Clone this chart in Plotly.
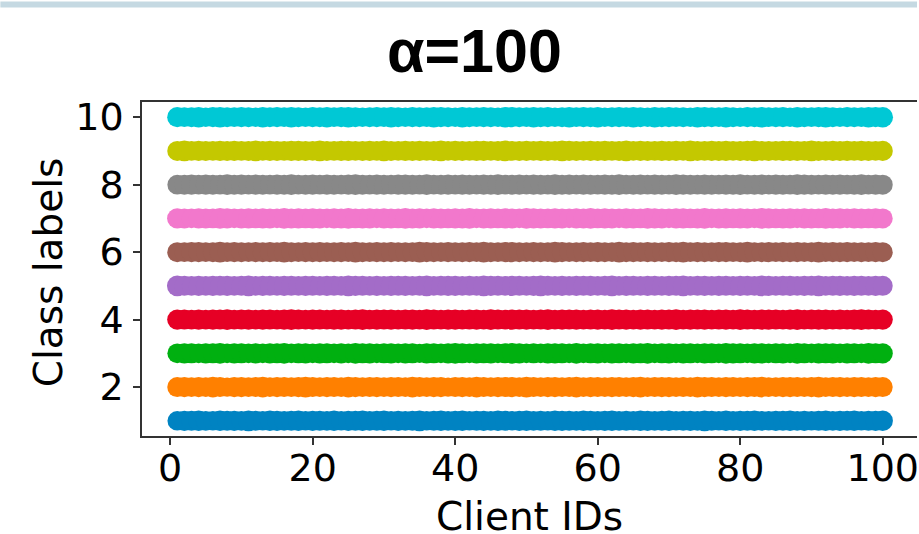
import plotly.graph_objects as go

# ---------------- data ----------------
client_ids = list(range(1, 101))
class_labels = [1, 2, 3, 4, 5, 6, 7, 8, 9, 10]
x_ticks = [0, 20, 40, 60, 80, 100]
y_ticks = [2, 4, 6, 8, 10]
title_text = "α=100"

# samples per (class, client)
counts_c1 = [48,51,50,53,49,47,52,50,51,49,54,50,48,52,51,49,50,53,47,51,
             50,49,52,48,51,50,53,49,50,52,48,51,49,50,54,47,50,52,49,51,
             53,48,50,51,49,52,50,47,51,53,49,50,48,52,51,50,49,53,50,48,
             51,52,49,50,47,53,51,49,50,52,48,50,51,49,54,50,48,52,49,51,
             50,53,49,48,51,50,52,49,51,48,50,53,49,51,50,52,48,50,51,52]
counts_c2 = [50,52,48,51,49,53,50,47,52,51,49,50,53,48,51,50,49,52,54,50,
             48,51,50,49,53,51,48,50,52,49,51,50,48,53,50,49,52,51,47,50,
             51,49,53,50,48,52,50,51,49,54,50,48,51,52,49,50,53,48,51,50,
             49,52,50,48,51,53,49,50,52,51,48,50,49,53,51,50,48,52,50,49,
             51,50,53,49,48,51,52,50,49,51,53,48,50,51,49,52,50,48,51,50]
counts_c3 = [49,51,50,48,52,50,53,49,51,50,48,52,49,51,50,53,48,50,51,49,
             52,50,48,51,49,53,50,51,48,50,52,49,51,50,47,52,50,49,51,53,
             50,48,51,50,52,49,50,53,51,48,50,49,52,51,50,48,53,49,50,51,
             48,52,50,49,51,50,53,48,50,52,49,51,50,48,52,50,49,53,51,50,
             49,51,52,48,50,51,49,53,50,48,51,50,52,49,51,50,48,53,50,51]
counts_c4 = [51,50,49,52,48,51,50,53,49,50,51,48,52,50,49,51,53,50,48,51,
             50,49,52,51,48,50,53,49,51,50,52,48,50,51,49,53,50,48,52,51,
             49,50,51,48,53,50,49,52,50,51,48,50,53,49,51,50,52,48,50,51,
             49,53,50,51,48,52,50,49,51,50,53,48,51,50,52,49,50,51,48,53,
             50,49,52,51,50,48,51,53,49,50,52,51,48,50,49,51,53,50,49,51]
counts_c5 = [53,50,48,51,49,52,50,51,48,50,53,49,51,50,48,52,50,49,51,50,
             48,52,50,49,53,51,50,48,51,49,52,50,51,48,50,53,49,50,52,51,
             48,50,49,53,51,50,48,52,50,49,51,53,50,48,51,49,52,50,51,48,
             50,53,49,51,50,48,52,50,49,51,50,53,48,50,51,49,52,50,48,51,
             50,49,53,51,48,50,52,49,51,50,53,48,50,51,49,52,50,48,51,50]
counts_c6 = [50,49,51,52,48,50,53,49,51,50,48,52,50,51,49,53,50,48,51,50,
             52,49,50,51,48,53,50,49,52,50,51,48,50,49,53,51,50,48,52,49,
             50,51,48,53,50,49,51,52,50,48,51,50,49,53,51,48,50,52,49,51,
             50,48,53,50,51,49,52,50,48,51,50,53,49,51,50,48,52,51,49,50,
             53,48,50,51,49,52,50,51,48,50,53,49,51,50,52,48,50,49,51,50]
counts_c7 = [52,50,48,51,50,49,53,51,48,50,52,49,51,50,48,53,50,51,49,52,
             50,48,51,50,53,49,50,52,48,51,50,49,53,50,51,48,52,50,49,51,
             50,53,48,50,51,49,52,50,48,53,51,50,49,52,50,48,51,50,53,49,
             51,50,48,52,50,49,53,51,50,48,51,52,49,50,53,48,50,51,49,52,
             50,48,53,51,49,50,52,48,51,50,49,53,50,51,48,52,50,49,51,50]
counts_c8 = [49,50,52,48,51,50,49,53,50,51,48,52,50,49,51,50,53,48,50,51,
             49,52,50,48,51,53,50,49,51,50,48,52,51,50,49,53,48,50,51,49,
             52,50,48,51,50,53,49,50,52,48,51,50,49,53,50,51,48,52,50,49,
             51,50,53,48,50,51,49,52,50,48,53,51,50,49,52,50,48,51,50,53,
             49,50,51,48,52,50,49,53,51,50,48,52,50,51,49,50,53,48,51,50]
counts_c9 = [50,53,49,51,50,48,52,50,51,49,50,53,48,51,50,49,52,51,50,48,
             53,50,49,51,52,48,50,51,49,53,50,48,52,50,51,49,50,53,48,51,
             50,49,52,51,48,50,53,49,50,51,48,52,50,49,53,51,50,48,51,50,
             52,49,50,53,48,51,50,49,52,50,51,48,53,50,49,51,50,52,48,50,
             51,53,49,50,48,52,51,50,49,53,50,48,51,50,52,49,51,50,48,51]
counts_c10 = [51,49,50,52,48,51,53,50,49,51,50,48,52,50,51,49,53,50,48,51,
              50,52,49,51,53,50,48,50,51,49,52,50,48,51,50,49,53,51,50,48,
              52,50,49,51,50,48,53,51,50,49,52,50,51,48,50,53,49,51,50,52,
              48,50,51,49,53,50,48,52,50,51,49,50,48,53,51,50,49,52,50,48,
              51,50,53,49,50,51,48,52,50,49,51,53,50,48,51,50,49,52,51,53]

counts = [counts_c1, counts_c2, counts_c3, counts_c4, counts_c5,
          counts_c6, counts_c7, counts_c8, counts_c9, counts_c10]

colors = ["#0083c2", "#ff8000", "#00b010", "#e60025", "#a36cc8",
          "#9b5e52", "#f278cc", "#888888", "#c4c800", "#00c8d5"]

# ---------------- figure ----------------
W, H = 919, 534
L, R, T, B = 142, 0, 102, 98
pw, ph = W - L - R, H - T - B

fig = go.Figure()
for lab, cnt, col in zip(class_labels, counts, colors):
    fig.add_trace(go.Scatter(
        x=client_ids,
        y=[lab] * len(client_ids),
        mode="markers",
        marker=dict(size=[20 * (c / 50) ** 0.5 for c in cnt], color=col,
                    line=dict(width=0), opacity=1),
        showlegend=False,
        hoverinfo="skip",
    ))

tick_font = dict(family="DejaVu Sans", size=38, color="black")
axis_line = "#333333"

fig.update_layout(
    width=W, height=H,
    margin=dict(l=L, r=R, t=T, b=B),
    paper_bgcolor="white", plot_bgcolor="white",
    showlegend=False,
    xaxis=dict(range=[-3.95, 104.81], tickvals=x_ticks, ticktext=[str(v) for v in x_ticks],
               showgrid=False, zeroline=False, showline=True, mirror=True,
               linecolor=axis_line, linewidth=1.5, ticks="outside", ticklen=7,
               tickwidth=1.5, tickcolor=axis_line, tickfont=tick_font,
               ticklabelstandoff=-9, ticklabeloverflow="allow"),
    yaxis=dict(range=[0.55, 10.45], tickvals=y_ticks, ticktext=[str(v) for v in y_ticks],
               showgrid=False, zeroline=False, showline=True, mirror=False,
               linecolor=axis_line, linewidth=1.5, ticks="outside", ticklen=7,
               tickwidth=1.5, tickcolor=axis_line, tickfont=tick_font,
               ticklabelstandoff=2, ticklabeloverflow="allow"),
)

def px_x(px):
    return (px - L) / pw

def px_y(py):
    return (H - B - py) / ph

annotations = [
    dict(text=title_text, x=px_x(475), y=px_y(51), xref="paper", yref="paper",
         showarrow=False, xanchor="center", yanchor="middle",
         font=dict(family="Liberation Sans", size=61, color="black", weight="bold")),
    dict(text="Client IDs", x=px_x(531), y=px_y(516), xref="paper", yref="paper",
         showarrow=False, xanchor="center", yanchor="middle",
         font=dict(family="DejaVu Sans", size=39, color="black")),
    dict(text="Class labels", x=px_x(48), y=px_y(272), xref="paper", yref="paper",
         showarrow=False, xanchor="center", yanchor="middle", textangle=-90,
         font=dict(family="DejaVu Sans", size=39, color="black")),
]
fig.update_layout(annotations=annotations)

fig.add_shape(type="rect", xref="paper", yref="paper",
              x0=px_x(0), x1=px_x(W), y0=px_y(7.5), y1=px_y(1.5),
              fillcolor="#c5d9e2", line=dict(width=0), layer="above")

fig.write_html(
    "out.html",
    config={"displayModeBar": False},
    post_script="document.body.style.margin='0';document.body.style.overflow='hidden';",
)
